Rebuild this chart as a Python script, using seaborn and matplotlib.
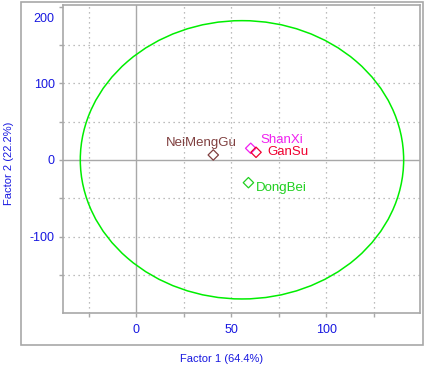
import matplotlib
matplotlib.use("Agg")
import matplotlib.pyplot as plt
import matplotlib.transforms as mtransforms
from matplotlib.patches import Ellipse, Rectangle
import pandas as pd
import seaborn as sns

# data
sites = ['NeiMengGu', 'ShanXi', 'GanSu', 'DongBei']
factor1 = [40.5, 60.2, 63.0, 59.0]
factor2 = [6.5, 15.2, 10.0, -29.6]
colors = ['#804040', '#f020f0', '#f00030', '#20d020']
# text offsets (points) of the site labels
offsets = [(17, 8.5), (6.7, 6), (7.9, 0), (5.5, -3.8)]
aligns = ['right', 'left', 'left', 'left']

ell_center = (55.6, 0.2)
ell_width = 170.2
ell_height = 362.8

df = pd.DataFrame({'site': sites, 'f1': factor1, 'f2': factor2})

sns.set_style('white')
plt.rcParams['font.family'] = ['Liberation Sans', 'DejaVu Sans']

fig = plt.figure(figsize=(4.26, 3.68), dpi=100)
ax = fig.add_axes([63 / 426, 55 / 368, 357 / 426, 308 / 368])

grey = '#a8a8a8'
blue = '#1818e0'

# outer frame
fig.patches.append(Rectangle((20.5 / 426, 23 / 368), 402 / 426, 343.5 / 368,
                             transform=fig.transFigure, fill=False,
                             edgecolor=grey, lw=1.2))

ax.set_xlim(-38.6, 149.3)
ax.set_ylim(-199.5, 202)

# grid
for gx in [-25, 25, 50, 75, 100, 125]:
    ax.axvline(gx, color=grey, ls=(0, (1, 3)), lw=0.9, zorder=0)
for gy in [-150, -100, -50, 50, 100, 150]:
    ax.axhline(gy, color=grey, ls=(0, (1, 3)), lw=0.9, zorder=0)
ax.axvline(0, color=grey, lw=1, zorder=0)
ax.axhline(0, color=grey, lw=1, zorder=0)

ax.add_patch(Ellipse(ell_center, ell_width, ell_height, fill=False,
                     edgecolor='#00ee00', lw=1.1))

sns.scatterplot(data=df, x='f1', y='f2', hue='site', palette=colors,
                marker='D', s=28, legend=False, ax=ax, zorder=3)
pts = ax.collections[-1]
pts.set_edgecolors(pts.get_facecolors())
pts.set_facecolors('none')
pts.set_linewidth(0.9)

for name, x, y, c, off, ha in zip(sites, factor1, factor2, colors, offsets, aligns):
    ax.annotate(name, (x, y), xytext=off, textcoords='offset points',
                ha=ha, va='center', color=c, fontsize=9.5)

for s in ax.spines.values():
    s.set_color(grey)
    s.set_linewidth(1.2)

ax.set_xticks([-25, 0, 25, 50, 75, 100, 125])
ax.set_xticklabels(['', '0', '', '50', '', '100', ''])
ax.set_yticks([-150, -100, -50, 0, 50, 100, 150, 200])
ax.set_yticklabels(['', '-100', '', '0', '', '100', '', '200'])
ax.tick_params(axis='both', direction='out', length=3, width=1, color=grey,
               labelcolor=blue, labelsize=9, pad=3, bottom=True, left=True)
ax.tick_params(axis='x', pad=5)

top_lbl = ax.get_yticklabels()[-1]
top_lbl.set_va('top')
top_lbl.set_transform(top_lbl.get_transform() +
                      mtransforms.ScaledTranslation(0, -5 / 72, fig.dpi_scale_trans))

ax.set_xlabel('')
ax.set_ylabel('')
fig.text(222 / 426, 1 - 359 / 368, 'Factor 1 (64.4%)', ha='center', va='center',
         color=blue, fontsize=8)
fig.text(9.5 / 426, 1 - 163 / 368, 'Factor 2 (22.2%)', ha='center', va='center',
         rotation=90, color=blue, fontsize=8)

fig.savefig('out.png', dpi=100)
